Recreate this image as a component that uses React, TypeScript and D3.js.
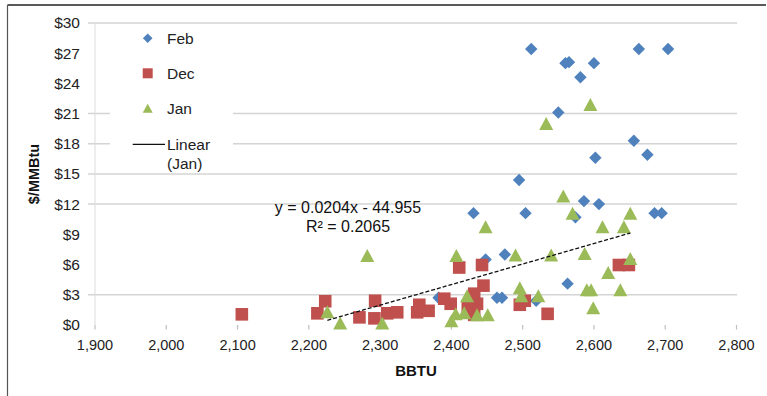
import React from "react";
import * as d3 from "d3";

const febX = [2382, 2431, 2448, 2464, 2471, 2475, 2495, 2504, 2512, 2519, 2550, 2560, 2565, 2563, 2574, 2581, 2586, 2600, 2602, 2607, 2656, 2663, 2675, 2685, 2695, 2704];
const febY = [2.7, 11.1, 6.5, 2.7, 2.7, 7.0, 14.4, 11.1, 27.4, 2.4, 21.1, 26.0, 26.1, 4.1, 10.7, 24.6, 12.3, 26.0, 16.6, 12.0, 18.3, 27.4, 16.9, 11.1, 11.1, 27.4];

const decX = [2106, 2212, 2223, 2271, 2292, 2293, 2310, 2324, 2352, 2355, 2368, 2390, 2399, 2411, 2423, 2432, 2432, 2436, 2443, 2445, 2496, 2503, 2535, 2635, 2649];
const decY = [1.05, 1.15, 2.35, 0.75, 0.65, 2.4, 1.15, 1.25, 1.25, 2.0, 1.4, 2.6, 2.1, 5.7, 1.65, 3.1, 1.0, 2.1, 5.95, 3.9, 2.0, 2.4, 1.1, 5.95, 5.95];

const janX = [2226, 2244, 2282, 2303, 2400, 2406, 2407, 2418, 2422, 2436, 2448, 2451, 2490, 2496, 2498, 2522, 2533, 2540, 2557, 2570, 2587, 2590, 2595, 2596, 2599, 2612, 2620, 2637, 2642, 2651, 2651];
const janY = [1.3, 0.2, 6.9, 0.2, 0.4, 1.1, 6.9, 1.2, 2.9, 1.0, 9.75, 1.0, 6.95, 3.7, 2.9, 2.9, 20.0, 6.95, 12.8, 11.1, 7.1, 3.5, 21.9, 3.5, 1.7, 9.75, 5.2, 3.5, 9.75, 11.1, 6.6];

const trendSlope = 0.0204;
const trendIntercept = -44.955;
const trendLabel = "y = 0.0204x - 44.955";
const r2Label = "R² = 0.2065";

const xTicks = [1900, 2000, 2100, 2200, 2300, 2400, 2500, 2600, 2700, 2800];
const yTicks = [0, 3, 6, 9, 12, 15, 18, 21, 24, 27, 30];
const yGridShown = [30, 21, 18, 15, 12, 3];
const legendLabels = ["Feb", "Dec", "Jan", "Linear", "(Jan)"];
const xTitle = "BBTU";
const yTitle = "$/MMBtu";

const BLUE = "#4F81BD";
const RED = "#C0504D";
const GREEN = "#9BBB59";
const FONT = "Arial, 'Liberation Sans', sans-serif";

const diamond = (s: number) => `M0,${-s}L${s},0L0,${s}L${-s},0Z`;
const square = (s: number) => `M${-s},${-s}H${s}V${s}H${-s}Z`;
const triangle = (w: number, h: number) => `M0,${-h / 2}L${w / 2},${h / 2}L${-w / 2},${h / 2}Z`;

export default function App() {
  const x = d3.scaleLinear().domain([1900, 2800]).range([95, 736.5]);
  const y = d3.scaleLinear().domain([0, 30]).range([324.9, 22.9]);
  const fmt = d3.format(",");
  const janMin = d3.min(janX) as number;
  const janMax = d3.max(janX) as number;
  const trend = d3.line<number>().x((d) => x(d)).y((d) => y(trendSlope * d + trendIntercept));

  return (
    <svg width={767} height={396} style={{ position: "absolute", left: 0, top: 0, background: "#fff" }} fontFamily={FONT}>
      <rect x={0} y={0} width={767} height={396} fill="#fff" />
      {/* frame */}
      <line x1={7.5} y1={5} x2={766} y2={5} stroke="#222" strokeWidth={1.5} />
      <line x1={7.5} y1={5} x2={7.5} y2={396} stroke="#555" strokeWidth={1.2} />
      {/* gridlines */}
      {yGridShown.map((t) => (
        <line key={t} x1={88} x2={737} y1={y(t)} y2={y(t)} stroke="#D4D4D4" strokeWidth={1.5} />
      ))}
      {/* y axis line */}
      <line x1={95} x2={95} y1={y(30)} y2={y(0)} stroke="#DCDCDC" strokeWidth={1} />
      {/* x ticks */}
      {xTicks.map((t) => (
        <line key={t} x1={x(t)} x2={x(t)} y1={325} y2={329.5} stroke="#BFBFBF" strokeWidth={1.2} />
      ))}
      {/* tick labels */}
      {yTicks.map((t) => (
        <text key={t} x={80} y={y(t)} dy="0.35em" textAnchor="end" fontSize={15.5} fill="#222">
          {"$" + t}
        </text>
      ))}
      {xTicks.map((t) => (
        <text key={t} x={x(t)} y={349.5} textAnchor="middle" fontSize={14.5} fill="#222">
          {fmt(t)}
        </text>
      ))}
      <text x={416} y={375.5} textAnchor="middle" fontSize={15} fontWeight="bold" fill="#111">
        {xTitle}
      </text>
      <text transform="translate(39,174) rotate(-90)" textAnchor="middle" fontSize={14.5} fontWeight="bold" fill="#111">
        {yTitle}
      </text>
      {/* legend background */}
      <rect x={110} y={24} width={123} height={147} fill="#fff" />
      {/* series */}
      <g fill={BLUE}>
        {febX.map((d, i) => (
          <path key={i} d={diamond(6.2)} transform={`translate(${x(d)},${y(febY[i])})`} />
        ))}
      </g>
      <g fill={RED}>
        {decX.map((d, i) => (
          <path key={i} d={square(6.3)} transform={`translate(${x(d)},${y(decY[i])})`} />
        ))}
      </g>
      <g fill={GREEN}>
        {janX.map((d, i) => (
          <path key={i} d={triangle(14, 13)} transform={`translate(${x(d)},${y(janY[i])})`} />
        ))}
      </g>
      <path d={trend([janMin, janMax]) || ""} stroke="#111" strokeWidth={1.3} strokeDasharray="4,2" fill="none" />
      <text x={348} y={212.5} textAnchor="middle" fontSize={16} fill="#111">{trendLabel}</text>
      <text x={348} y={231.5} textAnchor="middle" fontSize={16} fill="#111">{r2Label}</text>
      {/* legend */}
      <path d={diamond(4.8)} transform="translate(147.7,38.3)" fill={BLUE} />
      <text x={167} y={38.3} dy="0.35em" fontSize={15.5} fill="#222">{legendLabels[0]}</text>
      <path d={square(5)} transform="translate(147.7,73.3)" fill={RED} />
      <text x={167} y={73.3} dy="0.35em" fontSize={15.5} fill="#222">{legendLabels[1]}</text>
      <path d={triangle(10, 9)} transform="translate(147.7,108.3)" fill={GREEN} />
      <text x={167} y={108.3} dy="0.35em" fontSize={15.5} fill="#222">{legendLabels[2]}</text>
      <line x1={132.7} x2={165} y1={144.3} y2={144.3} stroke="#111" strokeWidth={1.3} />
      <text x={167} y={144.3} dy="0.35em" fontSize={15.5} fill="#222">{legendLabels[3]}</text>
      <text x={167} y={163.3} dy="0.35em" fontSize={15.5} fill="#222">{legendLabels[4]}</text>
    </svg>
  );
}
